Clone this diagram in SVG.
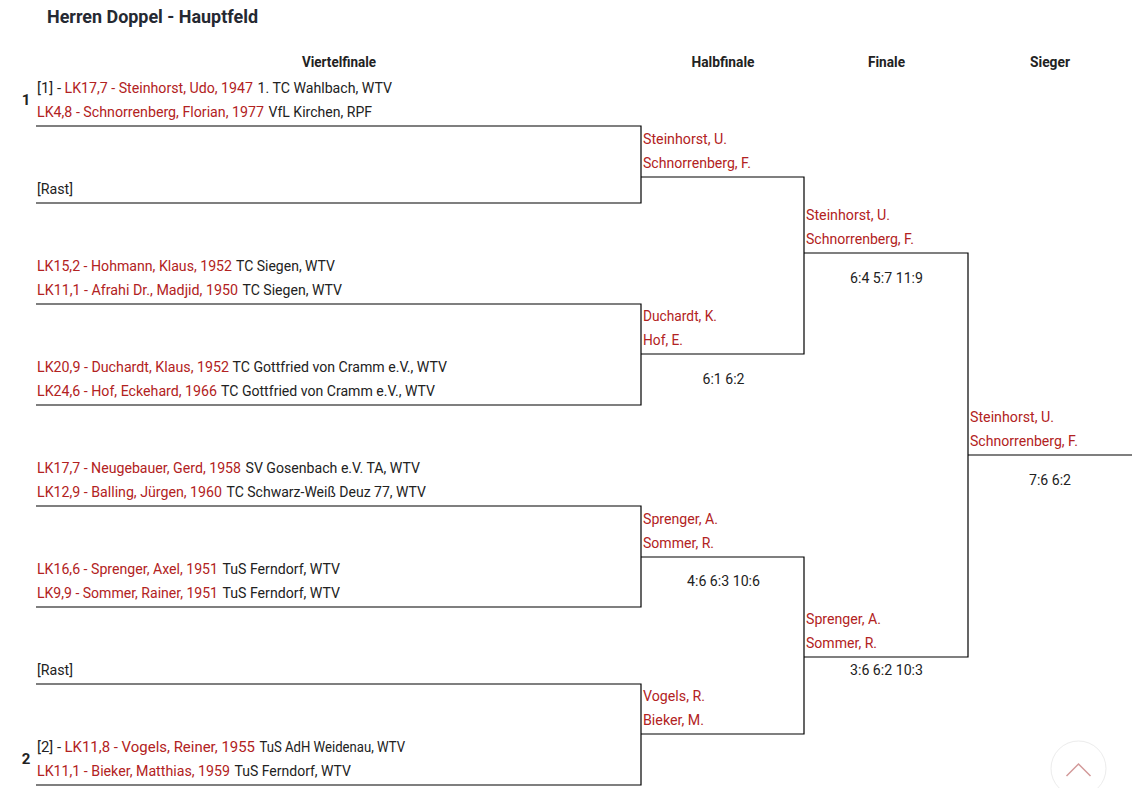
<svg xmlns="http://www.w3.org/2000/svg" width="1132" height="788" viewBox="0 0 1132 788">
<style>
text{font-family:Roboto,"Liberation Sans",sans-serif;font-size:15px;fill:#222}
.r{fill:#b22222}
.h{font-weight:bold;text-anchor:middle}
.t{font-weight:bold;font-size:18px;fill:#252932}
.s{text-anchor:middle}
.seed{font-weight:bold;text-anchor:middle}
.ln{stroke:#000;stroke-width:1.2;fill:none}
</style>
<rect width="1132" height="788" fill="#fff"/>
<g id="title"><text class="t" x="47" y="23" textLength="211" lengthAdjust="spacingAndGlyphs">Herren Doppel - Hauptfeld</text></g>
<g id="headers">
<text class="h" x="339" y="67" textLength="74" lengthAdjust="spacingAndGlyphs">Viertelfinale</text>
<text class="h" x="723" y="67" textLength="63" lengthAdjust="spacingAndGlyphs">Halbfinale</text>
<text class="h" x="886.5" y="67" textLength="37" lengthAdjust="spacingAndGlyphs">Finale</text>
<text class="h" x="1050" y="67" textLength="40" lengthAdjust="spacingAndGlyphs">Sieger</text>
</g>
<g id="connectors">
<path class="ln" d="M36 126H641V203H36"/>
<path class="ln" d="M36 304H641V405H36"/>
<path class="ln" d="M36 506H641V607H36"/>
<path class="ln" d="M36 684H641V785H36"/>
<path class="ln" d="M641 177H804V354H641"/>
<path class="ln" d="M641 557H804V734H641"/>
<path class="ln" d="M804 253H968V657H804"/>
<path class="ln" d="M968 455H1132"/>
</g>
<g id="seeds">
<text class="seed" x="26" y="105">1</text>
<text class="seed" x="26" y="764">2</text>
</g>
<g id="qf1a">
<text x="37" y="93" textLength="24" lengthAdjust="spacingAndGlyphs">[1] -</text>
<text class="r" x="64.5" y="93" textLength="188.5" lengthAdjust="spacingAndGlyphs">LK17,7 - Steinhorst, Udo, 1947</text>
<text x="257.5" y="93" textLength="134.5" lengthAdjust="spacingAndGlyphs">1. TC Wahlbach, WTV</text>
<text class="r" x="37" y="117" textLength="227" lengthAdjust="spacingAndGlyphs">LK4,8 - Schnorrenberg, Florian, 1977</text>
<text x="268.5" y="117" textLength="103.5" lengthAdjust="spacingAndGlyphs">VfL Kirchen, RPF</text>
</g>
<g id="qf1b"><text x="37" y="194" textLength="36" lengthAdjust="spacingAndGlyphs">[Rast]</text></g>
<g id="qf2a">
<text class="r" x="37" y="271" textLength="195" lengthAdjust="spacingAndGlyphs">LK15,2 - Hohmann, Klaus, 1952</text>
<text x="236" y="271" textLength="99" lengthAdjust="spacingAndGlyphs">TC Siegen, WTV</text>
<text class="r" x="37" y="295" textLength="201" lengthAdjust="spacingAndGlyphs">LK11,1 - Afrahi Dr., Madjid, 1950</text>
<text x="242.5" y="295" textLength="99.5" lengthAdjust="spacingAndGlyphs">TC Siegen, WTV</text>
</g>
<g id="qf2b">
<text class="r" x="37" y="372" textLength="192" lengthAdjust="spacingAndGlyphs">LK20,9 - Duchardt, Klaus, 1952</text>
<text x="232.5" y="372" textLength="214.5" lengthAdjust="spacingAndGlyphs">TC Gottfried von Cramm e.V., WTV</text>
<text class="r" x="37" y="396" textLength="180" lengthAdjust="spacingAndGlyphs">LK24,6 - Hof, Eckehard, 1966</text>
<text x="221" y="396" textLength="214" lengthAdjust="spacingAndGlyphs">TC Gottfried von Cramm e.V., WTV</text>
</g>
<g id="qf3a">
<text class="r" x="37" y="473" textLength="204" lengthAdjust="spacingAndGlyphs">LK17,7 - Neugebauer, Gerd, 1958</text>
<text x="245.5" y="473" textLength="174.5" lengthAdjust="spacingAndGlyphs">SV Gosenbach e.V. TA, WTV</text>
<text class="r" x="37" y="497" textLength="185" lengthAdjust="spacingAndGlyphs">LK12,9 - Balling, Jürgen, 1960</text>
<text x="226.5" y="497" textLength="199.5" lengthAdjust="spacingAndGlyphs">TC Schwarz-Weiß Deuz 77, WTV</text>
</g>
<g id="qf3b">
<text class="r" x="37" y="574" textLength="181" lengthAdjust="spacingAndGlyphs">LK16,6 - Sprenger, Axel, 1951</text>
<text x="222.5" y="574" textLength="117.5" lengthAdjust="spacingAndGlyphs">TuS Ferndorf, WTV</text>
<text class="r" x="37" y="598" textLength="181" lengthAdjust="spacingAndGlyphs">LK9,9 - Sommer, Rainer, 1951</text>
<text x="222.5" y="598" textLength="117.5" lengthAdjust="spacingAndGlyphs">TuS Ferndorf, WTV</text>
</g>
<g id="qf4a"><text x="37" y="675" textLength="36" lengthAdjust="spacingAndGlyphs">[Rast]</text></g>
<g id="qf4b">
<text x="37" y="752" textLength="24" lengthAdjust="spacingAndGlyphs">[2] -</text>
<text class="r" x="64.5" y="752" textLength="190.5" lengthAdjust="spacingAndGlyphs">LK11,8 - Vogels, Reiner, 1955</text>
<text x="259.5" y="752" textLength="145.5" lengthAdjust="spacingAndGlyphs">TuS AdH Weidenau, WTV</text>
<text class="r" x="37" y="776" textLength="193" lengthAdjust="spacingAndGlyphs">LK11,1 - Bieker, Matthias, 1959</text>
<text x="234.5" y="776" textLength="116.5" lengthAdjust="spacingAndGlyphs">TuS Ferndorf, WTV</text>
</g>
<g id="sf1a">
<text class="r" x="643" y="144" textLength="84" lengthAdjust="spacingAndGlyphs">Steinhorst, U.</text>
<text class="r" x="643" y="168" textLength="108" lengthAdjust="spacingAndGlyphs">Schnorrenberg, F.</text>
</g>
<g id="sf1b">
<text class="r" x="643" y="321" textLength="74" lengthAdjust="spacingAndGlyphs">Duchardt, K.</text>
<text class="r" x="643" y="345" textLength="40" lengthAdjust="spacingAndGlyphs">Hof, E.</text>
<text class="s" x="723.5" y="384" textLength="42" lengthAdjust="spacingAndGlyphs">6:1 6:2</text>
</g>
<g id="sf2a">
<text class="r" x="643" y="524" textLength="75" lengthAdjust="spacingAndGlyphs">Sprenger, A.</text>
<text class="r" x="643" y="548" textLength="71" lengthAdjust="spacingAndGlyphs">Sommer, R.</text>
<text class="s" x="723.5" y="586" textLength="73" lengthAdjust="spacingAndGlyphs">4:6 6:3 10:6</text>
</g>
<g id="sf2b">
<text class="r" x="643" y="701" textLength="62" lengthAdjust="spacingAndGlyphs">Vogels, R.</text>
<text class="r" x="643" y="725" textLength="61" lengthAdjust="spacingAndGlyphs">Bieker, M.</text>
</g>
<g id="fa">
<text class="r" x="806" y="220" textLength="84" lengthAdjust="spacingAndGlyphs">Steinhorst, U.</text>
<text class="r" x="806" y="244" textLength="108" lengthAdjust="spacingAndGlyphs">Schnorrenberg, F.</text>
<text class="s" x="886.5" y="283" textLength="73" lengthAdjust="spacingAndGlyphs">6:4 5:7 11:9</text>
</g>
<g id="fb">
<text class="r" x="806" y="624" textLength="75" lengthAdjust="spacingAndGlyphs">Sprenger, A.</text>
<text class="r" x="806" y="648" textLength="71" lengthAdjust="spacingAndGlyphs">Sommer, R.</text>
<text class="s" x="886.5" y="675" textLength="73" lengthAdjust="spacingAndGlyphs">3:6 6:2 10:3</text>
</g>
<g id="winner">
<text class="r" x="970" y="422" textLength="84" lengthAdjust="spacingAndGlyphs">Steinhorst, U.</text>
<text class="r" x="970" y="446" textLength="108" lengthAdjust="spacingAndGlyphs">Schnorrenberg, F.</text>
<text class="s" x="1050" y="485" textLength="42" lengthAdjust="spacingAndGlyphs">7:6 6:2</text>
</g>
<g id="top-button">
<circle cx="1078.5" cy="768.5" r="27.5" fill="#fff" stroke="#ececec" stroke-width="1"/>
<path d="M1066.5 776L1078.5 764L1090.5 776" fill="none" stroke="#d39a9a" stroke-width="1.5"/>
</g>
</svg>
